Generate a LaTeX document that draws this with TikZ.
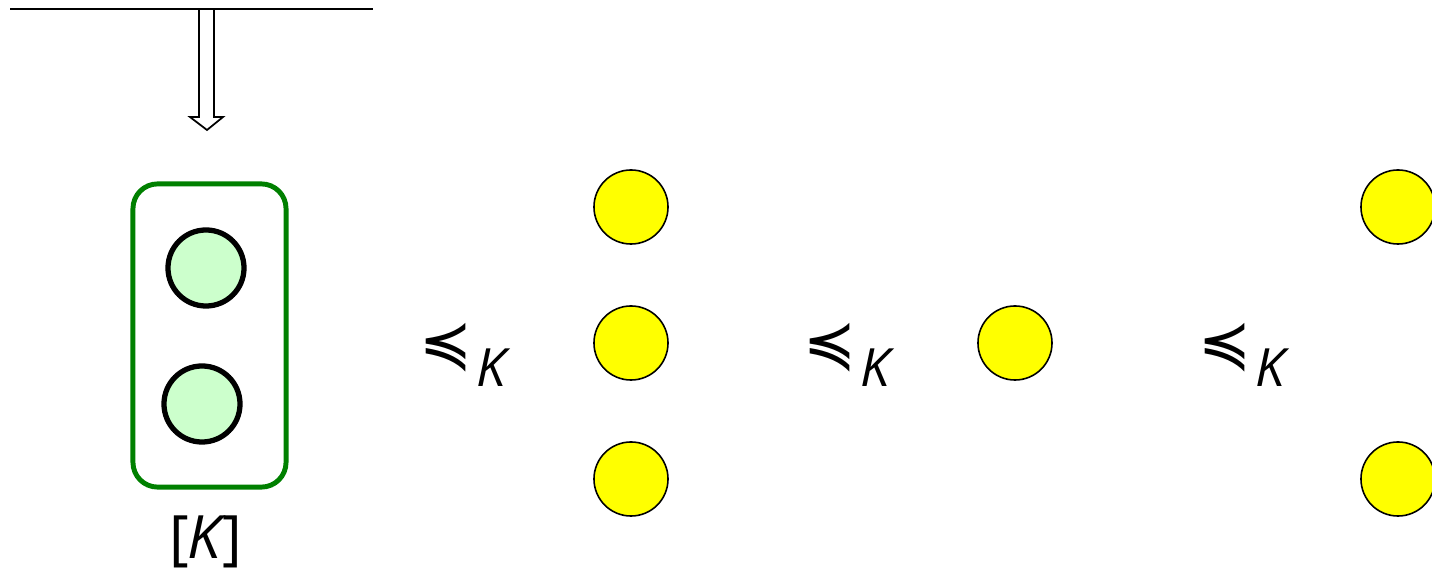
\documentclass[tikz,border=0pt]{standalone}
\usepackage{fontspec}
\setmainfont{Open Sans}
\newfontfamily\symb{DejaVu Sans}
\definecolor{vertclair}{RGB}{204,255,204}
\definecolor{vertfonce}{RGB}{0,128,0}
\definecolor{jaunevif}{RGB}{255,255,0}
\begin{document}
\begin{tikzpicture}[x=0.01cm,y=-0.01cm]
		% Styles
		\tikzstyle{trait}=[line width=0.6pt]
		\tikzstyle{fleche}=[line width=0.5pt]
		\tikzstyle{boite}=[draw=vertfonce,line width=1.4pt,rounded corners=7pt]
		\tikzstyle{bulle}=[circle,draw,line width=1.5pt,fill=vertclair,inner sep=0pt]
		\tikzstyle{jaune}=[circle,draw,line width=0.45pt,fill=jaunevif,minimum size=0.74cm,inner sep=0pt]
		\tikzstyle{relation}=[inner sep=0pt]
		% Dimensions
		\def\Haut{207}
		\def\Milieu{343}
		\def\Bas{479}
		\useasboundingbox (0,0) rectangle (1432,573);
		% Ligne et fleche
		\coordinate (g) at (10,9);
		\coordinate (d) at (373,9);
		\draw[trait] (g)--(d);
		\draw[fleche] (199,9)--(199,117)--(190,117)--(207,130)--(223,117)--(214,117)--(214,9);
		% Boite
		\node[boite,minimum width=1.53cm,minimum height=3.03cm] (B) at (209.5,335.5) {};
		\node[bulle,minimum size=0.76cm] (Ba) at (206,268) {};
		\node[bulle,minimum size=0.76cm] (Bb) at (202,404) {};
		\node[relation] (lab) at (206,542) {\fontsize{17}{20}\selectfont[\kern-0.5pt\textit{K}\kern-1pt]};
		% Relations
		\foreach \x/\n in {463/r1,847/r2,1242/r3}
			\node[relation] (\n) at (\x,355) {{\symb\fontsize{18}{20}\selectfont ≼}\kern1pt\raisebox{-1.1ex}{\fontsize{15}{18}\selectfont\itshape K}};
		% Noeuds jaunes
		\node[jaune] (J1) at (631,\Haut) {};
		\node[jaune] (J2) at (631,\Milieu) {};
		\node[jaune] (J3) at (631,\Bas) {};
		\node[jaune] (J4) at (1015,\Milieu) {};
		\node[jaune] (J5) at (1398,\Haut) {};
		\node[jaune] (J6) at (1398,\Bas) {};
	\end{tikzpicture}
\end{document}
